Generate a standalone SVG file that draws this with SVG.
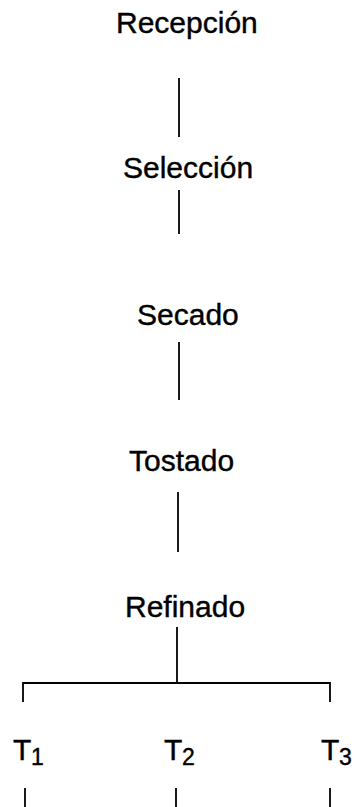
<svg xmlns="http://www.w3.org/2000/svg" width="356" height="807" viewBox="0 0 356 807">
<style>
text{font-family:"Liberation Sans",Arial,sans-serif;font-size:30px;fill:#000;stroke:#000;stroke-width:0.4}
.sub{font-size:23px}
line{stroke:#000;stroke-width:1.8;fill:none}
path{stroke:#000;stroke-width:1.8;fill:none}
</style>
<rect width="356" height="807" fill="#fff"/>
<g id="connectors">
<line x1="179" y1="78" x2="179" y2="137"/>
<line x1="179" y1="190" x2="179" y2="234"/>
<line x1="179" y1="342" x2="179" y2="400"/>
<line x1="178" y1="492" x2="178" y2="552"/>
<line x1="177" y1="627" x2="177" y2="683"/>
<path d="M23 702 V683 H330 V702"/>
<line x1="25" y1="788" x2="25" y2="807"/>
<line x1="176" y1="788" x2="176" y2="807"/>
<line x1="330" y1="788" x2="330" y2="807"/>
</g>
<g id="recepcion"><text x="116" y="33">Recepción</text></g>
<g id="seleccion"><text x="123" y="178">Selección</text></g>
<g id="secado"><text x="137" y="325">Secado</text></g>
<g id="tostado"><text x="129" y="471">Tostado</text></g>
<g id="refinado"><text x="125" y="617">Refinado</text></g>
<g id="t1"><text x="13" y="760">T</text><text class="sub" x="31" y="765">1</text></g>
<g id="t2"><text x="164" y="760">T</text><text class="sub" x="182" y="765">2</text></g>
<g id="t3"><text x="321" y="760">T</text><text class="sub" x="339" y="765">3</text></g>
</svg>
